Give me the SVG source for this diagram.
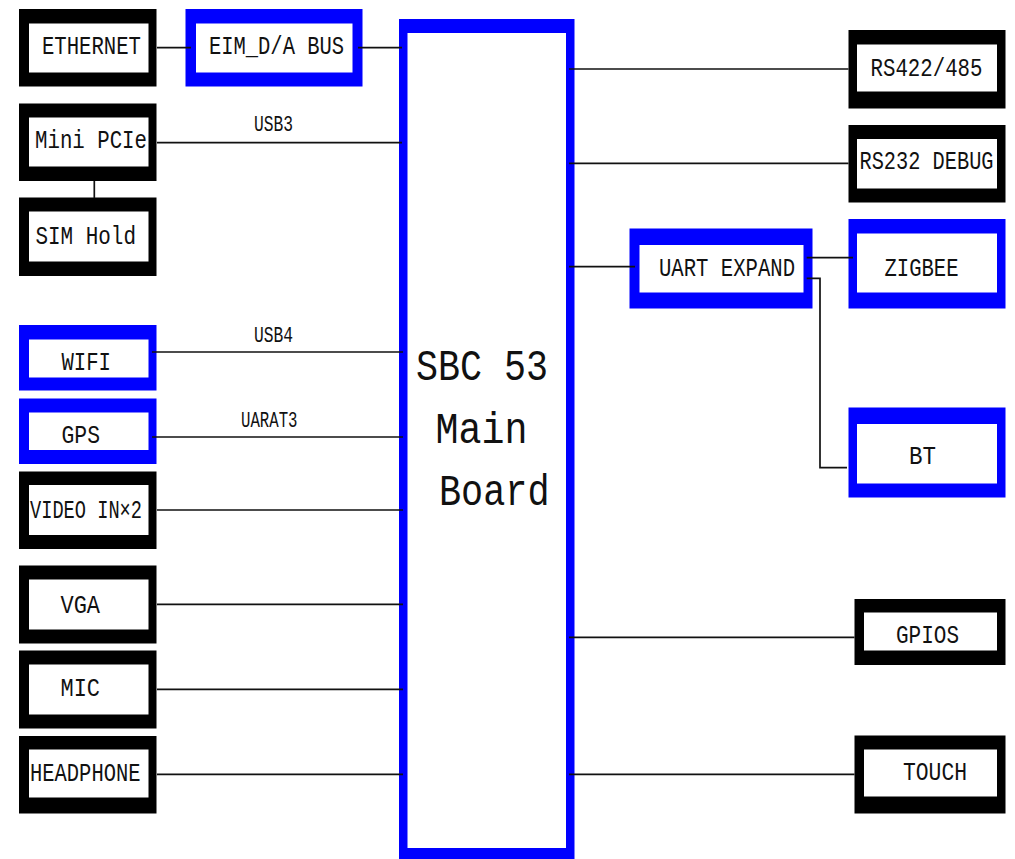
<svg xmlns="http://www.w3.org/2000/svg" width="1015" height="859" viewBox="0 0 1015 859">
<style>
.bk{fill:#000}
.bl{fill:#0000ff}
.in{fill:#fff}
.t{font-family:"Liberation Mono","DejaVu Sans Mono",monospace;font-size:25px;fill:#111}
.s{font-family:"Liberation Mono","DejaVu Sans Mono",monospace;font-size:22px;fill:#111}
.m{font-family:"Liberation Mono","DejaVu Sans Mono",monospace;font-size:45px;fill:#111}
.c{fill:none;stroke:#111;stroke-width:1.7}
</style>
<rect width="1015" height="859" fill="#fff"/>
<g id="main-board">
<rect class="bl" x="399" y="19" width="175.5" height="850"/>
<rect class="in" x="407.5" y="33" width="158.5" height="815"/>
<text class="m" x="416" y="380" textLength="132" lengthAdjust="spacingAndGlyphs">SBC 53</text>
<text class="m" x="435.5" y="443" textLength="92" lengthAdjust="spacingAndGlyphs">Main</text>
<text class="m" x="439" y="505" textLength="110.5" lengthAdjust="spacingAndGlyphs">Board</text>
</g>
<g id="ethernet">
<rect class="bk" x="19" y="9" width="137.5" height="77.5"/>
<rect class="in" x="29" y="23.5" width="119.5" height="49"/>
<text class="t" x="42" y="54" textLength="99" lengthAdjust="spacingAndGlyphs">ETHERNET</text>
</g>
<g id="eim-bus">
<rect class="bl" x="185.5" y="9" width="177" height="77.5"/>
<rect class="in" x="196" y="23.5" width="156.5" height="49"/>
<text class="t" x="209" y="54" textLength="135" lengthAdjust="spacingAndGlyphs">EIM_D/A BUS</text>
</g>
<g id="mini-pcie">
<rect class="bk" x="19" y="103.5" width="137.5" height="77.5"/>
<rect class="in" x="29" y="117.5" width="119.5" height="49"/>
<text class="t" x="35" y="148" textLength="112" lengthAdjust="spacingAndGlyphs">Mini PCIe</text>
</g>
<g id="sim-hold">
<rect class="bk" x="19" y="197.5" width="137.5" height="78.5"/>
<rect class="in" x="29" y="211.5" width="119.5" height="50"/>
<text class="t" x="35.5" y="244" textLength="100.5" lengthAdjust="spacingAndGlyphs">SIM Hold</text>
</g>
<g id="wifi">
<rect class="bl" x="19" y="325" width="137.5" height="65.5"/>
<rect class="in" x="29" y="339.5" width="119.5" height="38"/>
<text class="t" x="61.5" y="370" textLength="49.5" lengthAdjust="spacingAndGlyphs">WIFI</text>
</g>
<g id="gps">
<rect class="bl" x="19" y="398.5" width="137.5" height="65.5"/>
<rect class="in" x="29" y="412.5" width="119.5" height="37.5"/>
<text class="t" x="61.5" y="443" textLength="38.5" lengthAdjust="spacingAndGlyphs">GPS</text>
</g>
<g id="video-in">
<rect class="bk" x="19" y="471.5" width="137.5" height="77.5"/>
<rect class="in" x="29" y="485" width="119.5" height="50"/>
<text class="t" x="30" y="518" textLength="112" lengthAdjust="spacingAndGlyphs">VIDEO IN×2</text>
</g>
<g id="vga">
<rect class="bk" x="19" y="565.5" width="137.5" height="78"/>
<rect class="in" x="29" y="579.5" width="119.5" height="50"/>
<text class="t" x="60.5" y="613" textLength="39.5" lengthAdjust="spacingAndGlyphs">VGA</text>
</g>
<g id="mic">
<rect class="bk" x="19" y="650.5" width="137.5" height="78"/>
<rect class="in" x="29" y="664.5" width="119.5" height="50"/>
<text class="t" x="60.5" y="696" textLength="39.5" lengthAdjust="spacingAndGlyphs">MIC</text>
</g>
<g id="headphone">
<rect class="bk" x="19" y="736" width="137.5" height="77.5"/>
<rect class="in" x="29" y="749.5" width="119.5" height="48"/>
<text class="t" x="30" y="781" textLength="110.5" lengthAdjust="spacingAndGlyphs">HEADPHONE</text>
</g>
<g id="rs422">
<rect class="bk" x="848.5" y="30" width="157" height="78.5"/>
<rect class="in" x="857" y="44.5" width="140" height="47"/>
<text class="t" x="870.5" y="76" textLength="112" lengthAdjust="spacingAndGlyphs">RS422/485</text>
</g>
<g id="rs232">
<rect class="bk" x="848.5" y="125" width="157" height="77.5"/>
<rect class="in" x="857" y="139" width="140" height="49.5"/>
<text class="t" x="859.5" y="169" textLength="134" lengthAdjust="spacingAndGlyphs">RS232 DEBUG</text>
</g>
<g id="uart-expand">
<rect class="bl" x="629.5" y="228.5" width="183" height="80"/>
<rect class="in" x="639.5" y="245" width="164" height="47.5"/>
<text class="t" x="659" y="276" textLength="136" lengthAdjust="spacingAndGlyphs">UART EXPAND</text>
</g>
<g id="zigbee">
<rect class="bl" x="848.5" y="219" width="157" height="89.5"/>
<rect class="in" x="857" y="233.5" width="140" height="59"/>
<text class="t" x="884.5" y="276" textLength="74" lengthAdjust="spacingAndGlyphs">ZIGBEE</text>
</g>
<g id="bt">
<rect class="bl" x="848.5" y="407.5" width="157" height="90"/>
<rect class="in" x="857" y="424" width="140" height="59.5"/>
<text class="t" x="909" y="464" textLength="27" lengthAdjust="spacingAndGlyphs">BT</text>
</g>
<g id="gpios">
<rect class="bk" x="854.5" y="599" width="151" height="66"/>
<rect class="in" x="864" y="612.5" width="133" height="38"/>
<text class="t" x="896" y="643" textLength="63" lengthAdjust="spacingAndGlyphs">GPIOS</text>
</g>
<g id="touch">
<rect class="bk" x="854.5" y="735.5" width="151" height="78"/>
<rect class="in" x="864" y="749.5" width="133" height="47"/>
<text class="t" x="903" y="780" textLength="64" lengthAdjust="spacingAndGlyphs">TOUCH</text>
</g>
<g id="connectors">
<path class="c" d="M157 47.7H191"/>
<path class="c" d="M358 47.7H402"/>
<path class="c" d="M157 142.7H402"/>
<path class="c" d="M94.3 181V198"/>
<path class="c" d="M152 352H403"/>
<path class="c" d="M152 437H403"/>
<path class="c" d="M157 510H403"/>
<path class="c" d="M157 604.3H403"/>
<path class="c" d="M157 689.3H403"/>
<path class="c" d="M157 774.3H403"/>
<path class="c" d="M569 69H848.5"/>
<path class="c" d="M569 163.3H848.5"/>
<path class="c" d="M569 266.7H635"/>
<path class="c" d="M806.7 257.7H853"/>
<path class="c" d="M806.7 278.3H820V467.7H847"/>
<path class="c" d="M569 637.3H854.5"/>
<path class="c" d="M569 774.3H854.5"/>
<text class="s" x="254" y="131" textLength="39" lengthAdjust="spacingAndGlyphs">USB3</text>
<text class="s" x="254" y="342" textLength="39" lengthAdjust="spacingAndGlyphs">USB4</text>
<text class="s" x="241" y="427" textLength="56.5" lengthAdjust="spacingAndGlyphs">UARAT3</text>
</g>
</svg>
